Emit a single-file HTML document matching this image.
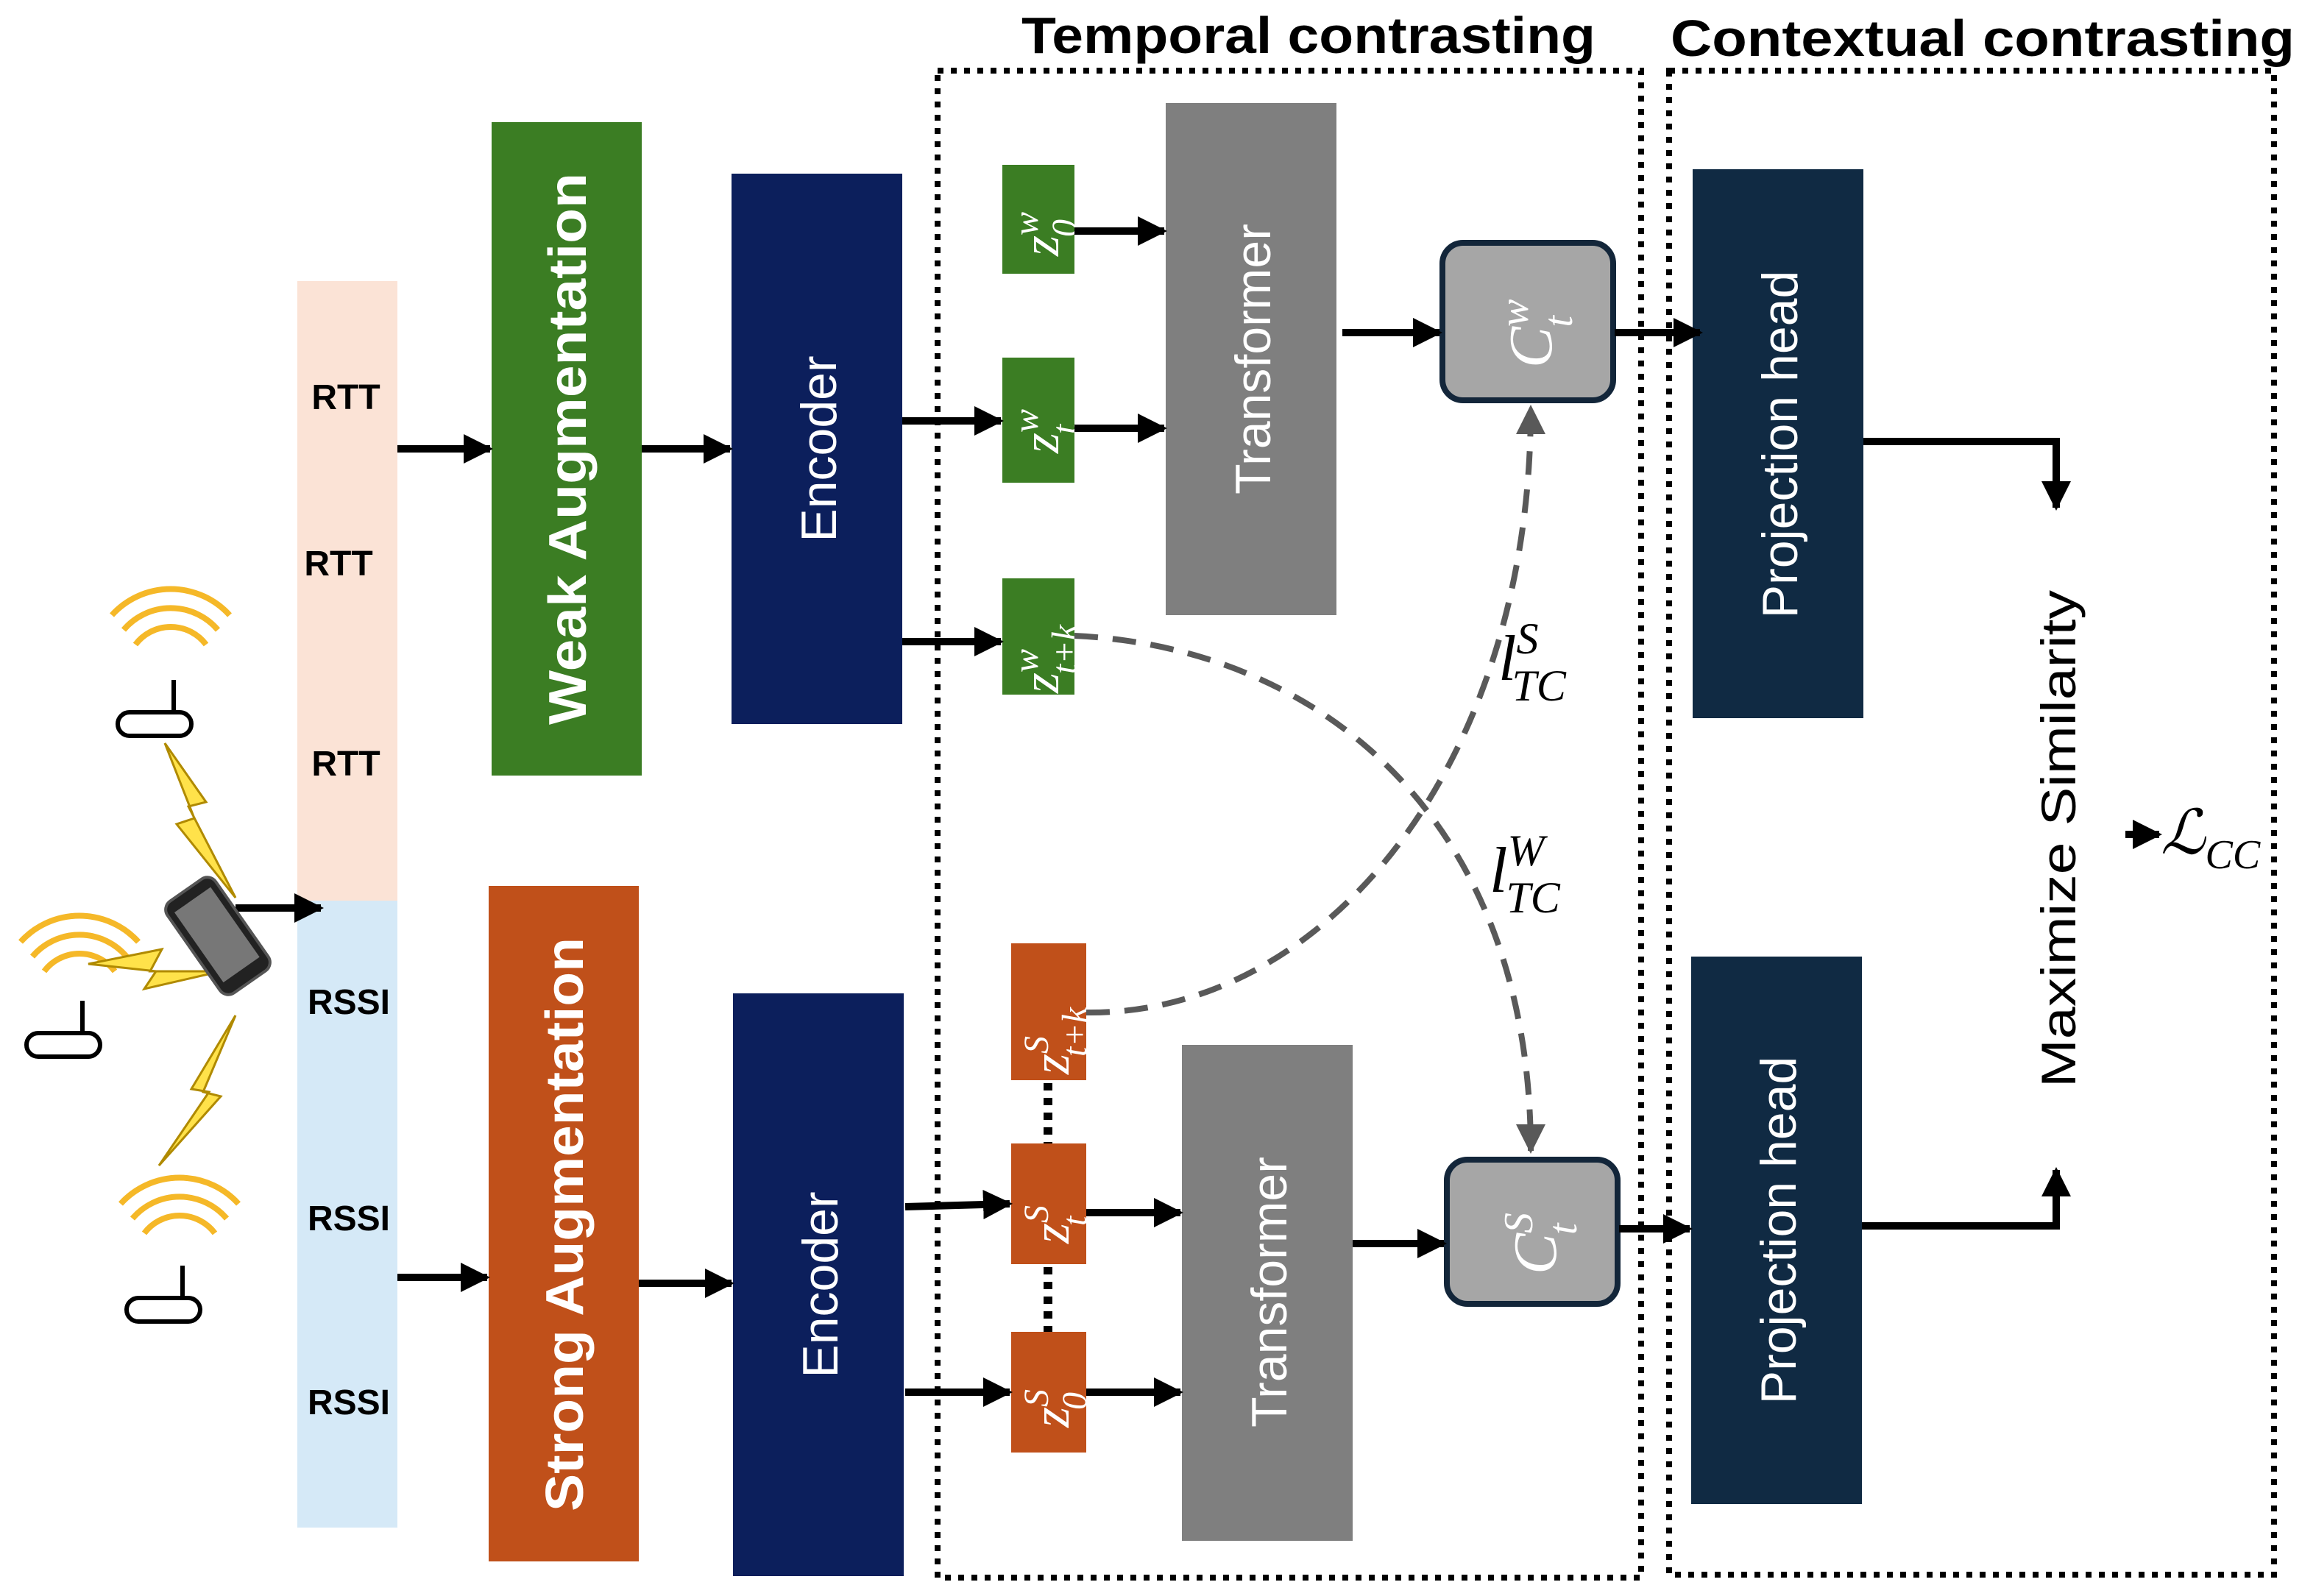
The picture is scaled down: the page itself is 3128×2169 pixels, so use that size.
<!DOCTYPE html>
<html><head><meta charset="utf-8"><style>
html,body{margin:0;padding:0;background:#fff}
svg{display:block}
.s{font-family:"Liberation Sans",sans-serif}
.m{font-family:"Liberation Serif",serif;font-style:italic}
</style></head><body>
<svg width="3128" height="2169" viewBox="0 0 1564 1084.5" xmlns="http://www.w3.org/2000/svg">
<defs>
<marker id="a" viewBox="0 0 10 10" refX="9" refY="5" markerWidth="4" markerHeight="4" orient="auto"><path d="M0,0L10,5L0,10z" fill="#000"/></marker>
<marker id="g" viewBox="0 0 10 10" refX="9" refY="5" markerWidth="5" markerHeight="5" orient="auto"><path d="M0,0L10,5L0,10z" fill="#595959"/></marker>
</defs>
<rect width="1564" height="1085" fill="#fff"/>
<text x="889" y="36" class="s" font-size="35" font-weight="bold" text-anchor="middle" textLength="390" lengthAdjust="spacingAndGlyphs">Temporal contrasting</text>
<text x="1347" y="38" class="s" font-size="35" font-weight="bold" text-anchor="middle" textLength="424" lengthAdjust="spacingAndGlyphs">Contextual contrasting</text>
<rect x="637" y="48" width="478" height="1024" fill="none" stroke="#000" stroke-width="4" stroke-dasharray="4,5"/>
<rect x="1134" y="48" width="411" height="1022" fill="none" stroke="#000" stroke-width="4" stroke-dasharray="4,5"/>
<rect x="202" y="191" width="68" height="421" fill="#fbe3d6"/>
<rect x="202" y="612" width="68" height="426" fill="#d5e9f7"/>
<g class="s" font-size="24" font-weight="bold" text-anchor="middle">
<text x="235" y="278">RTT</text><text x="230" y="391">RTT</text><text x="235" y="527">RTT</text>
<text x="237" y="689">RSSI</text><text x="237" y="836">RSSI</text><text x="237" y="961">RSSI</text>
</g>
<rect x="334" y="83" width="102" height="444" fill="#3b7d23"/>
<text transform="translate(398,305) rotate(-90)" class="s" font-size="36" font-weight="bold" fill="#fff" text-anchor="middle" textLength="375" lengthAdjust="spacingAndGlyphs">Weak Augmentation</text>
<rect x="332" y="602" width="102" height="459" fill="#c0501a"/>
<text transform="translate(396,832) rotate(-90)" class="s" font-size="36" font-weight="bold" fill="#fff" text-anchor="middle" textLength="390" lengthAdjust="spacingAndGlyphs">Strong Augmentation</text>
<rect x="497" y="118" width="116" height="374" fill="#0c1f5c"/>
<text transform="translate(568,305) rotate(-90)" class="s" font-size="34" fill="#fff" text-anchor="middle">Encoder</text>
<rect x="498" y="675" width="116" height="396" fill="#0c1f5c"/>
<text transform="translate(569,873) rotate(-90)" class="s" font-size="34" fill="#fff" text-anchor="middle">Encoder</text>
<rect x="792" y="70" width="116" height="348" fill="#7f7f7f"/>
<text transform="translate(863,244) rotate(-90)" class="s" font-size="34" fill="#fff" text-anchor="middle">Transformer</text>
<rect x="803" y="710" width="116" height="337" fill="#7f7f7f"/>
<text transform="translate(874,878) rotate(-90)" class="s" font-size="34" fill="#fff" text-anchor="middle">Transformer</text>
<rect x="681" y="112" width="49" height="74" fill="#3b7d23"/>
<rect x="681" y="243" width="49" height="85" fill="#3b7d23"/>
<rect x="681" y="393" width="49" height="79" fill="#3b7d23"/>
<rect x="687" y="641" width="51" height="93" fill="#c0501a"/>
<rect x="687" y="777" width="51" height="82" fill="#c0501a"/>
<rect x="687" y="905" width="51" height="82" fill="#c0501a"/>
<g class="m" fill="#fff" font-size="36">
<text transform="translate(719,174) rotate(-90)">z<tspan font-size="24" dy="-14">w</tspan><tspan font-size="24" dx="-17" dy="26">0</tspan></text>
<text transform="translate(719,308) rotate(-90)">z<tspan font-size="24" dy="-14">w</tspan><tspan font-size="24" dx="-17" dy="26">t</tspan></text>
<text transform="translate(719,471) rotate(-90)">z<tspan font-size="24" dy="-14">w</tspan><tspan font-size="24" dx="-17" dy="26">t+k</tspan></text>
<text transform="translate(726,730) rotate(-90)">z<tspan font-size="24" dy="-14">S</tspan><tspan font-size="24" dx="-14" dy="26">t+k</tspan></text>
<text transform="translate(726,845) rotate(-90)">z<tspan font-size="24" dy="-14">S</tspan><tspan font-size="24" dx="-14" dy="26">t</tspan></text>
<text transform="translate(726,970) rotate(-90)">z<tspan font-size="24" dy="-14">S</tspan><tspan font-size="24" dx="-14" dy="26">0</tspan></text>
</g>
<line x1="712" y1="736" x2="712" y2="777" stroke="#000" stroke-width="6" stroke-dasharray="5,5"/>
<line x1="712" y1="861" x2="712" y2="905" stroke="#000" stroke-width="6" stroke-dasharray="5,5"/>
<rect x="980" y="165" width="116" height="107" rx="14" fill="#a6a6a6" stroke="#13263a" stroke-width="4"/>
<rect x="983" y="788" width="116" height="98" rx="14" fill="#a6a6a6" stroke="#13263a" stroke-width="4"/>
<g class="m" fill="#fff" font-size="42">
<text transform="translate(1054,250) rotate(-90)">C<tspan font-size="28" dy="-16">w</tspan><tspan font-size="28" dx="-19" dy="30">t</tspan></text>
<text transform="translate(1057,866) rotate(-90)">C<tspan font-size="28" dy="-16">S</tspan><tspan font-size="28" dx="-15" dy="30">t</tspan></text>
</g>
<rect x="1150" y="115" width="116" height="373" fill="#102a43"/>
<text transform="translate(1221,302) rotate(-90)" class="s" font-size="34" fill="#fff" text-anchor="middle">Projection head</text>
<rect x="1149" y="650" width="116" height="372" fill="#102a43"/>
<text transform="translate(1220,836) rotate(-90)" class="s" font-size="34" fill="#fff" text-anchor="middle">Projection head</text>
<text transform="translate(1410,570) rotate(-90)" class="s" font-size="33" text-anchor="middle" textLength="338" lengthAdjust="spacingAndGlyphs">Maximize Similarity</text>
<text x="1468" y="580" class="m" font-size="42">ℒ<tspan font-size="28" dy="10">CC</tspan></text>
<path d="M730,432 C900,440 1040,560 1040,782" fill="none" stroke="#595959" stroke-width="4" stroke-dasharray="16,10" marker-end="url(#g)"/>
<path d="M738,688 C900,690 1040,520 1040,277" fill="none" stroke="#595959" stroke-width="4" stroke-dasharray="16,10" marker-end="url(#g)"/>
<text x="1018" y="462" class="m" font-size="44">l<tspan font-size="30" dy="-18">S</tspan><tspan font-size="30" dx="-18" dy="32">TC</tspan></text>
<text x="1012" y="606" class="m" font-size="44">l<tspan font-size="30" dy="-18">W</tspan><tspan font-size="30" dx="-26" dy="32">TC</tspan></text>
<g stroke="#000" stroke-width="5" fill="none" marker-end="url(#a)">
<line x1="270" y1="305" x2="333" y2="305"/>
<line x1="436" y1="305" x2="496" y2="305"/>
<line x1="270" y1="868" x2="331" y2="868"/>
<line x1="434" y1="872" x2="497" y2="872"/>
<line x1="613" y1="286" x2="680" y2="286"/>
<line x1="613" y1="436" x2="680" y2="436"/>
<line x1="730" y1="157" x2="791" y2="157"/>
<line x1="730" y1="291" x2="791" y2="291"/>
<line x1="912" y1="226" x2="978" y2="226"/>
<line x1="1097" y1="226" x2="1155" y2="226"/>
<polyline points="1266,300 1397,300 1397,345"/>
<polyline points="1265,833 1397,833 1397,795"/>
<line x1="1444" y1="567" x2="1467" y2="567"/>
<line x1="615" y1="820" x2="686" y2="818"/>
<line x1="615" y1="946" x2="686" y2="946"/>
<line x1="738" y1="824" x2="802" y2="824"/>
<line x1="738" y1="946" x2="802" y2="946"/>
<line x1="919" y1="845" x2="981" y2="845"/>
<line x1="1100" y1="835" x2="1148" y2="835"/>
<line x1="160" y1="617" x2="218" y2="617"/>
</g>
<g fill="none" stroke="#f5b828" stroke-width="4">
<path d="M92,438 A30,30 0 0 1 140,438"/><path d="M84,428 A42,42 0 0 1 148,428"/><path d="M76,418 A54,54 0 0 1 156,418"/>
<path d="M30,660 A30,30 0 0 1 78,660"/><path d="M22,650 A42,42 0 0 1 86,650"/><path d="M14,640 A54,54 0 0 1 94,640"/>
<path d="M98,838 A30,30 0 0 1 146,838"/><path d="M90,828 A42,42 0 0 1 154,828"/><path d="M82,818 A54,54 0 0 1 162,818"/>
</g>
<g fill="#fff" stroke="#000" stroke-width="3">
<rect x="80" y="484" width="50" height="16" rx="8"/><line x1="118" y1="484" x2="118" y2="462"/>
<rect x="18" y="702" width="50" height="16" rx="8"/><line x1="56" y1="702" x2="56" y2="680"/>
<rect x="86" y="882" width="50" height="16" rx="8"/><line x1="124" y1="882" x2="124" y2="860"/>
</g>
<g fill="#ffe24a" stroke="#b08a00" stroke-width="1.5">
<path d="M112,505 L140,545 L128,548 L160,610 L120,560 L132,556 Z"/>
<path d="M60,655 L110,645 L102,660 L150,660 L98,672 L106,660 Z"/>
<path d="M160,690 L130,740 L142,742 L108,792 L150,745 L138,742 Z"/>
</g>
<g transform="translate(148,636) rotate(-35)">
<rect x="-20" y="-38" width="40" height="76" rx="7" fill="#222" stroke="#555" stroke-width="2"/>
<rect x="-15" y="-30" width="30" height="58" fill="#777"/>
</g>
</svg>
</body></html>
